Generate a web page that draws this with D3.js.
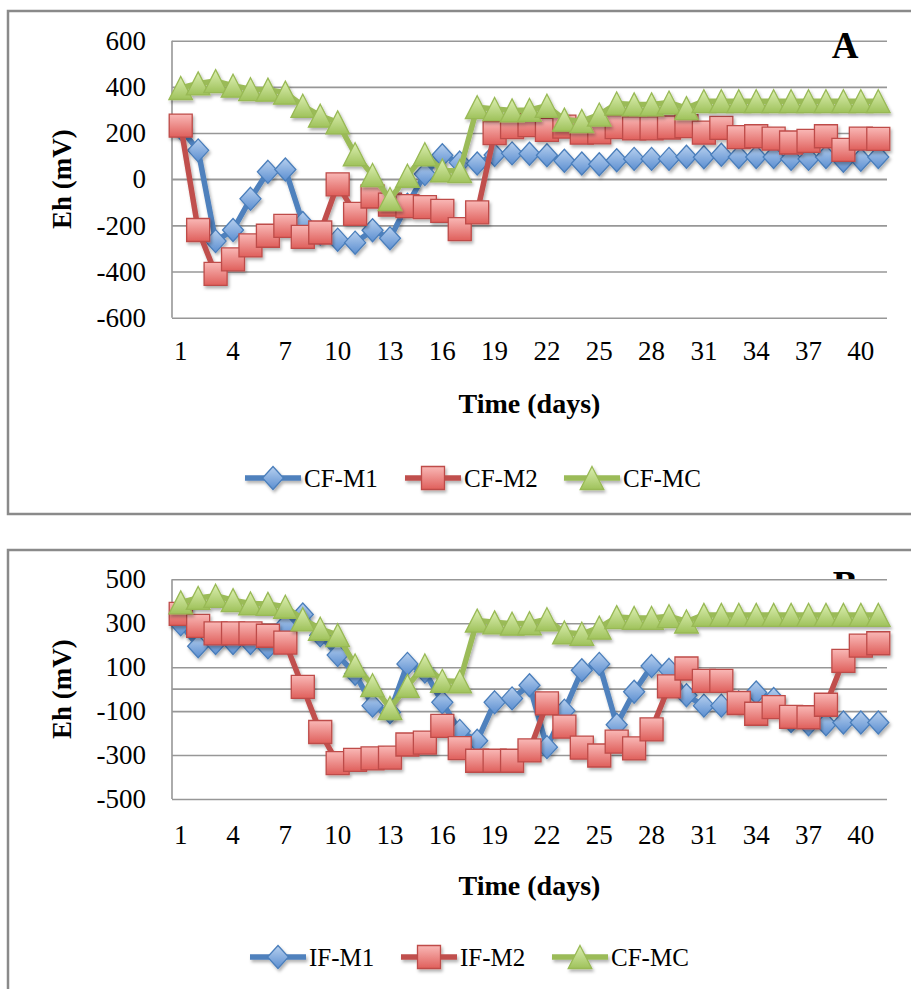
<!DOCTYPE html>
<html>
<head>
<meta charset="utf-8">
<script src="https://cdn.jsdelivr.net/npm/d3@7"></script>
<style>
  body { margin: 0; background: #fff; }
  svg { display: block; }
  text { font-family: "Liberation Serif", "Times New Roman", serif; fill: #000; }
</style>
</head>
<body>
<div id="chart"></div>
<script>
// --- Data ---
const days = [1,2,3,4,5,6,7,8,9,10,11,12,13,14,15,16,17,18,19,20,21,22,23,24,25,26,27,28,29,30,31,32,33,34,35,36,37,38,39,40,41];
const xTickDays = [1,4,7,10,13,16,19,22,25,28,31,34,37,40];

const yTicksA = [600, 400, 200, 0, -200, -400, -600];
const yTicksB = [500, 300, 100, -100, -300, -500];

const cfM1 = [220,125,-268,-220,-85,32,42,-190,-235,-262,-275,-221,-256,-110,22,104,72,68,105,112,110,104,80,68,65,82,88,88,88,97,95,106,96,96,96,88,88,96,80,84,96];
const cfM2 = [232,-220,-410,-347,-287,-245,-202,-250,-231,-22,-150,-75,-110,-117,-121,-137,-216,-144,200,226,234,214,228,202,203,226,220,220,224,230,202,222,182,186,176,159,166,186,127,176,175];
const cfMC = [395,415,425,405,390,388,375,318,275,246,108,18,-86,15,108,38,35,312,304,298,300,318,258,252,280,328,324,324,332,308,338,338,338,338,338,338,338,338,338,338,338];

const ifM1 = [295,195,210,210,210,190,290,340,245,155,70,-75,-105,115,80,-60,-190,-235,-60,-42,18,-264,-98,86,115,-162,-12,105,88,-28,-75,-75,-60,-15,-45,-145,-160,-160,-152,-152,-152];
const ifM2 = [343,288,254,254,254,243,212,10,-195,-337,-322,-315,-312,-252,-243,-167,-268,-326,-326,-326,-279,-65,-171,-266,-302,-239,-270,-183,13,94,38,38,-63,-112,-82,-126,-128,-71,129,198,209];

// --- Styles per marker kind ---
const styles = {
  diamond:  { line: "#4f81bd", stroke: "#4a7ebb", top: "#b7d0ef", bottom: "#5b8ed0" },
  square:   { line: "#c0504d", stroke: "#be4b48", top: "#f9b8b6", bottom: "#df5f5b" },
  triangle: { line: "#9bbb59", stroke: "#98b954", top: "#dcefb2", bottom: "#9fc25b" }
};

const W = 911, H = 989;
const svg = d3.select("#chart").append("svg")
  .attr("width", W)
  .attr("height", H);

const defs = svg.append("defs");
defs.append("filter")
  .attr("id", "shadow")
  .attr("x", "-50%").attr("y", "-50%").attr("width", "200%").attr("height", "200%")
  .append("feDropShadow")
  .attr("dx", 1.5).attr("dy", 2.5).attr("stdDeviation", 1.6)
  .attr("flood-color", "#000").attr("flood-opacity", 0.3);

Object.entries(styles).forEach(([k, s]) => {
  const g = defs.append("linearGradient").attr("id", "grad-" + k)
    .attr("x1", 0).attr("y1", 0).attr("x2", 0).attr("y2", 1);
  g.append("stop").attr("offset", "0%").attr("stop-color", s.top);
  g.append("stop").attr("offset", "100%").attr("stop-color", s.bottom);
});

function markerPath(kind) {
  if (kind === "diamond") return "M0,-11.5L10.5,0L0,11.5L-10.5,0Z";
  if (kind === "square") return "M-11.5,-11.5H11.5V11.5H-11.5Z";
  return "M0,-11.5L11.8,11.5L-11.8,11.5Z";
}

const plotLeft = 172, plotRight = 887;
const x = d3.scaleBand().domain(days).range([plotLeft, plotRight]);
const cx = d => x(d) + x.bandwidth() / 2;

function drawPanel(p) {
  const g = svg.append("g");

  // outer frame
  g.append("rect")
    .attr("x", 8).attr("y", p.frameTop)
    .attr("width", 920).attr("height", p.frameHeight)
    .attr("fill", "#fff")
    .attr("stroke", "#8a8a8a")
    .attr("stroke-width", 2.5);

  const y = d3.scaleLinear().domain(p.yDomain).range([p.plotBottom, p.plotTop]);

  // panel letter that sits under the plot area
  if (p.letterBehind) {
    g.append("text")
      .attr("x", 845).attr("y", p.letterY)
      .attr("text-anchor", "middle")
      .attr("font-size", 37).attr("font-weight", "bold")
      .text(p.letter);
  }

  g.append("rect")
    .attr("x", plotLeft).attr("y", p.plotTop)
    .attr("width", plotRight - plotLeft).attr("height", p.plotBottom - p.plotTop)
    .attr("fill", "#fff");

  // gridlines + y labels
  const yAxis = g.append("g")
    .attr("transform", `translate(${plotLeft},0)`)
    .call(d3.axisLeft(y).tickValues(p.yTicks).tickSize(-(plotRight - plotLeft)).tickPadding(26).tickFormat(d => String(d)));
  yAxis.select(".domain").remove();
  yAxis.selectAll(".tick line").attr("stroke", "#979797").attr("stroke-width", 1.6);
  yAxis.selectAll(".tick text")
    .attr("font-size", 27)
    .attr("font-family", "Liberation Serif, serif")
    .attr("fill", "#000");

  // horizontal axis line at zero
  g.append("line")
    .attr("x1", plotLeft).attr("x2", plotRight)
    .attr("y1", y(0)).attr("y2", y(0))
    .attr("stroke", "#979797").attr("stroke-width", 1.6);

  // vertical axis line
  g.append("line")
    .attr("x1", plotLeft).attr("x2", plotLeft)
    .attr("y1", p.plotTop).attr("y2", p.plotBottom)
    .attr("stroke", "#979797").attr("stroke-width", 1.6);

  // x labels
  const xAxis = g.append("g")
    .attr("transform", `translate(0,${p.tickBaseline})`)
    .call(d3.axisBottom(x).tickValues(xTickDays).tickSize(0).tickPadding(0));
  xAxis.select(".domain").remove();
  xAxis.selectAll(".tick text")
    .attr("y", 0).attr("dy", null)
    .attr("font-size", 27)
    .attr("font-family", "Liberation Serif, serif")
    .attr("fill", "#000");

  // series
  const line = d3.line().x((d, i) => cx(days[i])).y(d => y(d));
  p.series.forEach(s => {
    const st = styles[s.kind];
    const sg = g.append("g").attr("filter", "url(#shadow)");
    sg.append("path")
      .datum(s.values)
      .attr("d", line)
      .attr("fill", "none")
      .attr("stroke", st.line)
      .attr("stroke-width", 5.5)
      .attr("stroke-linejoin", "round");
    sg.selectAll("path.marker")
      .data(s.values)
      .enter()
      .append("path")
      .attr("class", "marker")
      .attr("transform", (d, i) => `translate(${cx(days[i])},${y(d)})`)
      .attr("d", markerPath(s.kind))
      .attr("fill", `url(#grad-${s.kind})`)
      .attr("stroke", st.stroke)
      .attr("stroke-width", 1.3);
  });

  if (!p.letterBehind) {
    g.append("text")
      .attr("x", 845).attr("y", p.letterY)
      .attr("text-anchor", "middle")
      .attr("font-size", 37).attr("font-weight", "bold")
      .text(p.letter);
  }

  // axis titles
  g.append("text")
    .attr("x", (plotLeft + plotRight) / 2).attr("y", p.titleBaseline)
    .attr("text-anchor", "middle")
    .attr("font-size", 28).attr("font-weight", "bold")
    .text("Time (days)");

  const midY = (p.plotTop + p.plotBottom) / 2;
  g.append("text")
    .attr("transform", `translate(71,${midY}) rotate(-90)`)
    .attr("text-anchor", "middle")
    .attr("font-size", 27).attr("font-weight", "bold")
    .text("Eh (mV)");

  // legend
  const legendX = p.legendX;
  p.series.forEach((s, i) => {
    const st = styles[s.kind];
    const lg = g.append("g").attr("transform", `translate(${legendX[i]},${p.legendY})`);
    const sg = lg.append("g").attr("filter", "url(#shadow)");
    sg.append("line")
      .attr("x1", 0).attr("x2", 56)
      .attr("stroke", st.line).attr("stroke-width", 5.5);
    sg.append("path")
      .attr("transform", "translate(28,0)")
      .attr("d", markerPath(s.kind))
      .attr("fill", `url(#grad-${s.kind})`)
      .attr("stroke", st.stroke)
      .attr("stroke-width", 1.3);
    lg.append("text")
      .attr("x", 59).attr("y", 9)
      .attr("font-size", 25)
      .text(s.name);
  });
}

drawPanel({
  frameTop: 11, frameHeight: 503,
  plotTop: 40.7, plotBottom: 317.7,
  yDomain: [-600, 600], yTicks: yTicksA,
  tickBaseline: 360, titleBaseline: 413,
  legendY: 478, legendX: [245, 405, 564],
  letter: "A", letterY: 58, letterBehind: false,
  series: [
    { name: "CF-M1", kind: "diamond", values: cfM1 },
    { name: "CF-M2", kind: "square", values: cfM2 },
    { name: "CF-MC", kind: "triangle", values: cfMC }
  ]
});

drawPanel({
  frameTop: 550, frameHeight: 500,
  plotTop: 579.3, plotBottom: 799,
  yDomain: [-500, 500], yTicks: yTicksB,
  tickBaseline: 844, titleBaseline: 895,
  legendY: 957, legendX: [250, 401, 552],
  letter: "B", letterY: 597, letterBehind: true,
  series: [
    { name: "IF-M1", kind: "diamond", values: ifM1 },
    { name: "IF-M2", kind: "square", values: ifM2 },
    { name: "CF-MC", kind: "triangle", values: cfMC }
  ]
});
</script>
</body>
</html>
